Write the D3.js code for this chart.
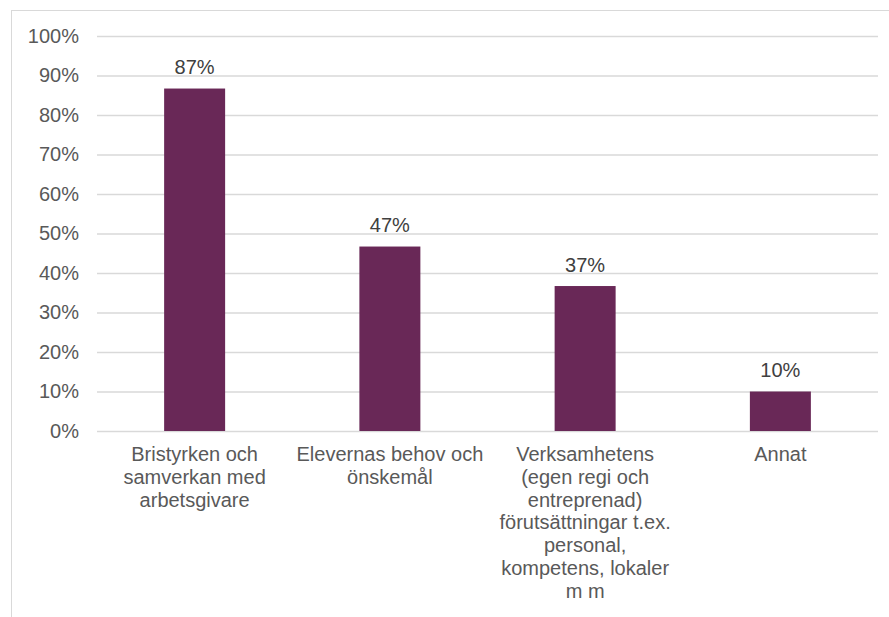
<!DOCTYPE html>
<html>
<head>
<meta charset="utf-8">
<script src="https://cdn.jsdelivr.net/npm/d3@7"></script>
<style>
  body { margin: 0; background: #fff; }
  text { font-family: "Liberation Sans", Arial, sans-serif; }
</style>
</head>
<body>
<script>
// categories, wrapped the way the original chart wraps them
const categories = ['Bristyrken', 'Elevernas', 'Verksamhetens', 'Annat'];
const categoryLines = [
    ['Bristyrken och', 'samverkan med', 'arbetsgivare'],
    ['Elevernas behov och', 'önskemål'],
    ['Verksamhetens', '(egen regi och', 'entreprenad)', 'förutsättningar t.ex.', 'personal,', 'kompetens, lokaler', 'm m'],
    ['Annat'],
];
const shares = [0.867, 0.467, 0.367, 0.10];
const yTicks = [0, 0.1, 0.2, 0.3, 0.4, 0.5, 0.6, 0.7, 0.8, 0.9, 1.0];

function makeChart(svg) {
    const W = 889, H = 617;
    const left = 97, right = 878, top = 36, bottom = 431;

    // chart frame (runs off the right and bottom edge like the original)
    svg.append('rect')
        .attr('x', 11.5).attr('y', 10.5)
        .attr('width', W).attr('height', H)
        .attr('fill', 'none')
        .attr('stroke', '#d9d9d9');

    const x = d3.scaleBand()
        .domain(categories)
        .range([left, right])
        .paddingInner(0.6876)
        .paddingOuter(0.3438);

    const y = d3.scaleLinear().domain([0, 1]).range([bottom, top]);

    const yAxis = svg.append('g')
        .attr('transform', `translate(${left},0)`)
        .call(d3.axisLeft(y)
            .tickValues(yTicks)
            .tickFormat(d3.format('.0%'))
            .tickSize(-(right - left))
            .tickPadding(18));
    yAxis.select('.domain').remove();
    yAxis.selectAll('.tick line').attr('stroke', '#d9d9d9').attr('stroke-width', 1.3);
    yAxis.selectAll('.tick text')
        .attr('fill', '#595959')
        .style('font-size', '20px')
        .style('font-family', '"Liberation Sans", Arial, sans-serif');

    const data = categories.map((c, i) => ({ c, v: shares[i], lines: categoryLines[i] }));

    svg.selectAll('rect.bar')
        .data(data)
        .enter()
        .append('rect')
        .attr('class', 'bar')
        .attr('x', d => x(d.c))
        .attr('y', d => y(d.v))
        .attr('width', x.bandwidth())
        .attr('height', d => y(0) - y(d.v))
        .attr('fill', '#692857');

    svg.selectAll('text.val')
        .data(data)
        .enter()
        .append('text')
        .attr('class', 'val')
        .attr('x', d => x(d.c) + x.bandwidth() / 2)
        .attr('y', d => y(d.v) - 14.5)
        .attr('text-anchor', 'middle')
        .attr('fill', '#404040')
        .style('font-size', '20px')
        .text(d => d3.format('.0%')(d.v));

    const labels = svg.selectAll('text.cat')
        .data(data)
        .enter()
        .append('text')
        .attr('class', 'cat')
        .attr('text-anchor', 'middle')
        .attr('fill', '#595959')
        .style('font-size', '20px');

    labels.selectAll('tspan')
        .data(d => d.lines.map(l => ({ l, cx: x(d.c) + x.bandwidth() / 2 })))
        .enter()
        .append('tspan')
        .attr('x', d => d.cx)
        .attr('y', (d, i) => bottom + 30 + i * 22.8)
        .text(d => d.l);
}

function main() {
    const svg = d3.select('body')
        .append('svg')
        .attr('width', 889)
        .attr('height', 617);
    makeChart(svg);
}

main();
</script>
</body>
</html>
